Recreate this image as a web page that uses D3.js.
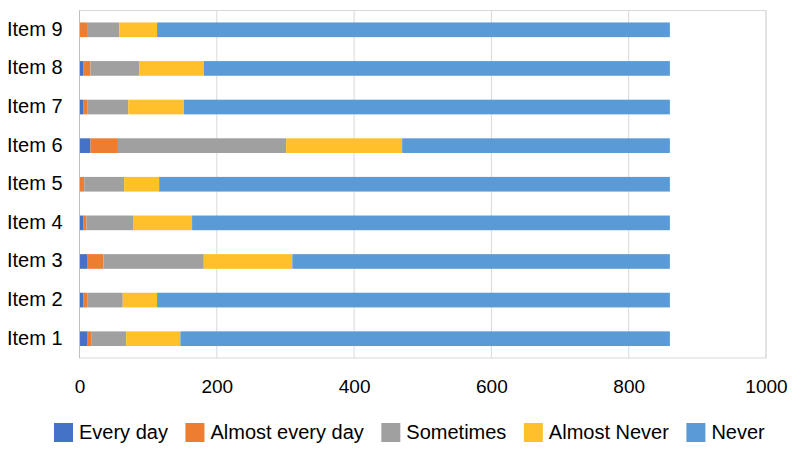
<!DOCTYPE html>
<html><head><meta charset="utf-8">
<script src="https://cdn.jsdelivr.net/npm/d3@7"></script>
<style>
html,body{margin:0;padding:0;background:#fff;}
text{font-family:"Liberation Sans",Arial,sans-serif;fill:#000;}
</style></head>
<body><svg id="c" width="800" height="460"></svg>
<script>
const categories = ["Item 1","Item 2","Item 3","Item 4","Item 5","Item 6","Item 7","Item 8","Item 9"];
const seriesNames = ["Every day","Almost every day","Sometimes","Almost Never","Never"];
const everyDay       = [11, 6, 11, 6, 0, 16, 6, 6, 0];
const almostEveryDay = [6, 6, 24, 4, 7, 40, 6, 10, 11];
const sometimes      = [51, 51, 146, 68, 58, 245, 59, 71, 47];
const almostNever    = [79, 50, 129, 86, 51, 169, 81, 94, 55];
const never          = [713, 747, 550, 696, 744, 390, 708, 679, 747];
const xTicks = [0, 200, 400, 600, 800, 1000];
const colors = ["#4472C4","#ED7D31","#A0A0A0","#FFC02A","#5A9BD5"];

const seriesValues = [everyDay, almostEveryDay, sometimes, almostNever, never];
const rows = categories.map((c,i)=>{
  const r = {cat:c};
  seriesNames.forEach((s,j)=>r[s]=seriesValues[j][i]);
  return r;
});

const svg = d3.select("#c");
const m = {left:79.5, right:34, top:10.5, bottom:102};
const W = 800, H = 460;
const x = d3.scaleLinear().domain([0,1000]).range([m.left, W-m.right]);
const y = d3.scaleBand().domain(categories.slice().reverse()).range([m.top, H-m.bottom]).paddingInner(0.62).paddingOuter(0.31);

// gridlines
svg.append("g").selectAll("line").data(xTicks).join("line")
  .attr("x1",d=>x(d)).attr("x2",d=>x(d)).attr("y1",m.top).attr("y2",H-m.bottom)
  .attr("stroke","#D9D9D9").attr("stroke-width",1);
// plot border
svg.append("rect").attr("x",m.left).attr("y",m.top).attr("width",x(1000)-m.left).attr("height",H-m.bottom-m.top)
  .attr("fill","none").attr("stroke","#D9D9D9");

const stack = d3.stack().keys(seriesNames)(rows);
svg.append("g").selectAll("g").data(stack).join("g")
  .attr("fill",(d,i)=>colors[i])
  .selectAll("rect").data(d=>d).join("rect")
  .attr("x",d=>x(d[0])).attr("width",d=>x(d[1])-x(d[0]))
  .attr("y",d=>y(d.data.cat)).attr("height",y.bandwidth());

// left axis line
svg.append("line").attr("x1",m.left).attr("x2",m.left).attr("y1",m.top).attr("y2",H-m.bottom)
  .attr("stroke","#BFBFBF");

// x axis labels
const xa = svg.append("g").attr("transform",`translate(0,${H-m.bottom})`)
  .call(d3.axisBottom(x).tickValues(xTicks).tickFormat(d3.format("d")).tickSize(0).tickPadding(22));
xa.select(".domain").remove();
xa.selectAll("text").attr("font-size","19px").attr("font-family","Liberation Sans, Arial, sans-serif").attr("fill","#000");

// y axis labels
const ya = svg.append("g").attr("transform",`translate(${m.left},0)`)
  .call(d3.axisLeft(y).tickSize(0).tickPadding(17));
ya.select(".domain").remove();
ya.selectAll("text").attr("font-size","20px").attr("font-family","Liberation Sans, Arial, sans-serif").attr("fill","#000").attr("dy","0.3em");

// legend
const lg = svg.append("g").attr("transform","translate(0,423)");
let cx = 54;
seriesNames.forEach((s,i)=>{
  const g = lg.append("g").attr("transform",`translate(${cx},0)`);
  g.append("rect").attr("width",19).attr("height",19).attr("fill",colors[i]);
  const t = g.append("text").attr("x",25).attr("y",16).attr("font-size","20px").text(s);
  cx += 25 + t.node().getComputedTextLength() + 17.5;
});
</script></body></html>
